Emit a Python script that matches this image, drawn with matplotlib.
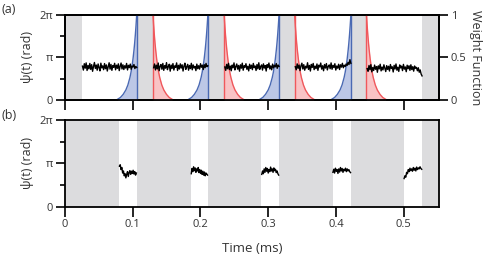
import numpy as np
import matplotlib
matplotlib.use("Agg")
import matplotlib.pyplot as plt
from matplotlib.ticker import FixedLocator

plt.rcParams['font.family'] = ['Open Sans', 'DejaVu Sans']

# gray (blocked) intervals in ms, top panel
gray_top = [(0.0, 0.025), (0.106, 0.130), (0.211, 0.235), (0.316, 0.339),
            (0.422, 0.445), (0.527, 0.552)]
# open windows in bottom panel (everything else gray)
windows_bot = [(0.080, 0.106), (0.186, 0.211), (0.290, 0.316),
               (0.395, 0.422), (0.500, 0.527)]

# phase trace segments (top panel), rad
seg_top = [(0.026, 0.106), (0.131, 0.211), (0.236, 0.316), (0.340, 0.422), (0.446, 0.527)]
psi_top = [
    [2.50, 2.21, 2.68, 2.35, 2.74, 2.18, 2.55, 2.30, 2.70, 2.26, 2.61, 2.12, 2.48, 2.77,
     2.33, 2.58, 2.20, 2.66, 2.40, 2.15, 2.72, 2.37, 2.52, 2.24, 2.69, 2.31, 2.59, 2.14,
     2.46, 2.75, 2.28, 2.63, 2.19, 2.54, 2.41, 2.71, 2.23, 2.57, 2.34, 2.67, 2.17, 2.49,
     2.73, 2.29, 2.60, 2.25, 2.53, 2.36, 2.70, 2.22, 2.56, 2.39, 2.65, 2.27, 2.51, 2.44,
     2.62, 2.32, 2.48, 2.40],
    [2.38, 2.66, 2.22, 2.57, 2.30, 2.73, 2.16, 2.49, 2.62, 2.27, 2.70, 2.19, 2.54, 2.35,
     2.76, 2.24, 2.47, 2.64, 2.13, 2.58, 2.33, 2.69, 2.21, 2.52, 2.41, 2.74, 2.18, 2.56,
     2.29, 2.67, 2.36, 2.60, 2.14, 2.50, 2.72, 2.26, 2.45, 2.63, 2.20, 2.55, 2.32, 2.71,
     2.23, 2.59, 2.37, 2.48, 2.17, 2.65, 2.31, 2.53, 2.28, 2.68, 2.42, 2.57, 2.25, 2.61,
     2.39, 2.70, 2.46, 2.52],
    [2.44, 2.19, 2.63, 2.31, 2.71, 2.25, 2.50, 2.16, 2.58, 2.38, 2.74, 2.22, 2.47, 2.66,
     2.28, 2.55, 2.13, 2.60, 2.35, 2.72, 2.20, 2.53, 2.42, 2.68, 2.27, 2.49, 2.15, 2.64,
     2.33, 2.57, 2.24, 2.70, 2.39, 2.51, 2.18, 2.62, 2.30, 2.75, 2.26, 2.46, 2.59, 2.21,
     2.67, 2.36, 2.54, 2.14, 2.61, 2.40, 2.73, 2.29, 2.52, 2.23, 2.65, 2.37, 2.56, 2.45,
     2.69, 2.34, 2.58, 2.48],
    [2.46, 2.23, 2.67, 2.34, 2.58, 2.17, 2.52, 2.72, 2.29, 2.61, 2.20, 2.49, 2.37, 2.75,
     2.26, 2.55, 2.14, 2.63, 2.41, 2.70, 2.24, 2.50, 2.32, 2.66, 2.19, 2.57, 2.44, 2.73,
     2.28, 2.53, 2.16, 2.62, 2.36, 2.69, 2.22, 2.48, 2.59, 2.31, 2.74, 2.27, 2.56, 2.40,
     2.68, 2.21, 2.51, 2.35, 2.64, 2.25, 2.60, 2.43, 2.71, 2.38, 2.57, 2.47, 2.66, 2.55,
     2.78, 2.62, 2.98, 2.70],
    [2.32, 2.12, 2.55, 2.24, 2.61, 2.08, 2.40, 2.18, 2.58, 2.27, 2.47, 2.05, 2.52, 2.30,
     2.64, 2.15, 2.43, 2.22, 2.60, 2.35, 2.10, 2.54, 2.26, 2.49, 2.14, 2.62, 2.33, 2.45,
     2.07, 2.56, 2.29, 2.66, 2.20, 2.42, 2.11, 2.59, 2.37, 2.50, 2.17, 2.63, 2.28, 2.44,
     2.09, 2.57, 2.31, 2.53, 2.19, 2.60, 2.25, 2.46, 2.13, 2.51, 2.34, 2.41, 2.16, 2.38,
     2.05, 2.22, 1.92, 1.78],
]

# phase trace inside the open windows (bottom panel), rad
psi_bot = [
    [2.95, 3.05, 2.70, 2.85, 2.45, 2.60, 2.25, 2.40, 2.10, 2.35, 2.55, 2.20, 2.48, 2.62,
     2.35, 2.58, 2.42, 2.65, 2.38, 2.55, 2.30, 2.45],
    [2.40, 2.78, 2.55, 2.90, 2.62, 2.82, 2.50, 2.75, 2.60, 2.85, 2.48, 2.70, 2.42, 2.65,
     2.35, 2.58, 2.30, 2.52, 2.25, 2.45, 2.38, 2.30],
    [2.35, 2.60, 2.40, 2.75, 2.50, 2.85, 2.58, 2.78, 2.45, 2.70, 2.55, 2.88, 2.60, 2.75,
     2.50, 2.82, 2.62, 2.72, 2.48, 2.60, 2.40, 2.30],
    [2.50, 2.72, 2.45, 2.80, 2.58, 2.70, 2.42, 2.75, 2.52, 2.85, 2.60, 2.78, 2.50, 2.72,
     2.62, 2.80, 2.55, 2.75, 2.60, 2.70, 2.55, 2.48],
    [2.05, 2.25, 2.15, 2.50, 2.40, 2.70, 2.55, 2.80, 2.62, 2.75, 2.58, 2.85, 2.65, 2.80,
     2.60, 2.88, 2.70, 2.82, 2.75, 2.90, 2.78, 2.72],
]

# weight function samples vs distance from the gray edge (ms)
w_dist = [0.0, 0.001, 0.002, 0.003, 0.004, 0.0055, 0.007, 0.0085, 0.010, 0.013,
          0.016, 0.020, 0.024, 0.028]
w_val = [1.0, 0.875, 0.766, 0.670, 0.587, 0.480, 0.393, 0.322, 0.264, 0.177,
         0.118, 0.066, 0.030, 0.010]
blue_edges = [0.106, 0.211, 0.316, 0.422]   # weight rises to these
red_edges = [0.130, 0.235, 0.339, 0.445]    # weight decays from these

GRAY = '#dcdcde'
BLUE = '#4a69b3'
BLUE_F = '#bcc7e6'
RED = '#f0585c'
RED_F = '#f9c3c5'
TXT = '#333333'
XMAX = 0.552
TWOPI = 2 * np.pi

fig = plt.figure(figsize=(4.84, 2.66), dpi=100)
ax1 = fig.add_axes([0.134, 0.624, 0.773, 0.320])
ax2 = fig.add_axes([0.134, 0.222, 0.773, 0.327])


def style_phase_axis(ax):
    ax.set_xlim(0, XMAX)
    ax.set_ylim(0, TWOPI)
    ax.set_yticks([0, np.pi, TWOPI])
    ax.set_yticklabels(['0', 'π', '2π'])
    ax.yaxis.set_minor_locator(FixedLocator([np.pi / 2, 3 * np.pi / 2]))
    ax.set_xticks([0, 0.1, 0.2, 0.3, 0.4, 0.5])
    ax.tick_params(axis='both', which='major', direction='out', width=1.2,
                   color='black', labelsize=8, labelcolor=TXT, pad=2)
    ax.tick_params(axis='y', which='major', length=6.5)
    ax.tick_params(axis='y', which='minor', length=3.5, width=1.2)
    ax.tick_params(axis='x', which='major', length=7)
    for s in ax.spines.values():
        s.set_linewidth(1.3)
    ax.set_ylabel('ψ(t) (rad)', fontsize=9, color=TXT, labelpad=4)


# top panel
style_phase_axis(ax1)
ax1.tick_params(axis='x', labelbottom=False)
for a, b in gray_top:
    ax1.axvspan(a, b, color=GRAY, lw=0, zorder=0)

axw = ax1.twinx()
axw.set_ylim(0, 1)
axw.set_yticks([0, 0.5, 1])
axw.set_yticklabels(['0', '0.5', '1'])
axw.tick_params(axis='y', direction='out', length=6.5, width=1.2,
                labelsize=8, labelcolor=TXT, pad=2)
for s in axw.spines.values():
    s.set_linewidth(1.3)
axw.set_ylabel('Weight Function', fontsize=9, color=TXT, rotation=270, labelpad=11)

wd = np.array(w_dist)
for e in blue_edges:
    t = e - wd
    axw.fill_between(t, 0, w_val, color=BLUE_F, lw=0, zorder=1)
    axw.plot(t, w_val, color=BLUE, lw=1.0, zorder=2)
    axw.plot([e, e], [0, 1], color=BLUE, lw=1.0, zorder=2)
for e in red_edges:
    t = e + wd
    axw.fill_between(t, 0, w_val, color=RED_F, lw=0, zorder=1)
    axw.plot(t, w_val, color=RED, lw=1.0, zorder=2)
    axw.plot([e, e], [0, 1], color=RED, lw=1.0, zorder=2)
axw.set_xlim(0, XMAX)

for (a, b), vals in zip(seg_top, psi_top):
    t = np.linspace(a, b, len(vals))
    axw.plot(t, np.array(vals) / TWOPI, color='black', lw=1.0, zorder=3)

# bottom panel
style_phase_axis(ax2)
edges = [0.0]
for a, b in windows_bot:
    edges += [a, b]
edges.append(XMAX)
for i in range(0, len(edges), 2):
    ax2.axvspan(edges[i], edges[i + 1], color=GRAY, lw=0, zorder=0)
for (a, b), vals in zip(windows_bot, psi_bot):
    t = np.linspace(a + 0.0005, b - 0.0005, len(vals))
    ax2.plot(t, vals, color='black', lw=1.0, zorder=3)
ax2.set_xticklabels(['0', '0.1', '0.2', '0.3', '0.4', '0.5'])
ax2.set_xlabel('Time (ms)', fontsize=9.5, color=TXT, labelpad=8)

fig.text(0.004, 0.965, '(a)', fontsize=9, color=TXT, va='center')
fig.text(0.004, 0.565, '(b)', fontsize=9, color=TXT, va='center')

fig.savefig('out.png', dpi=100)
